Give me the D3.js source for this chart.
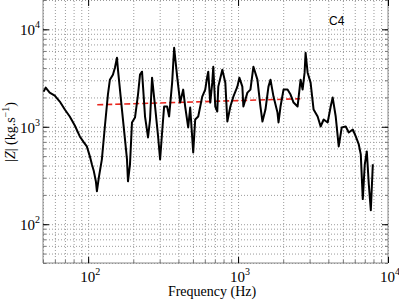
<!DOCTYPE html>
<html>
<head>
<meta charset="utf-8">
<script src="https://cdn.jsdelivr.net/npm/d3@7"></script>
<style>
  body { margin: 0; background: #fff; }
  svg text { fill: #000; }
</style>
</head>
<body>
<div id="content"></div>
<script>
(function(){

  //////////////////////// data /////////////////////////
  // frequency (Hz) and |Z| (kg.s^-1)
  var freq = [50.5, 52.1, 55.4, 59.9, 64.7, 69.9, 75.4, 81.5, 88.0, 93.6,
              98.0, 102.7, 105.9, 109.2, 112.6, 114.4, 117.9, 123.5, 129.3, 135.5,
              139.7, 146.3, 150.9, 155.7, 158.1, 168.1, 176.1, 181.6, 184.4, 190.2,
              196.1, 205.4, 215.1, 221.8, 228.8, 239.6, 250.9, 258.8, 266.9, 279.6,
              292.8, 302.0, 311.4, 321.2, 336.4, 346.8, 363.3, 374.7, 392.4, 411.0,
              430.4, 443.9, 464.9, 479.4, 502.1, 517.8, 542.3, 576.8, 604.0, 622.9,
              632.6, 652.3, 672.8, 683.3, 704.7, 726.7, 738.0, 785.2, 822.3, 848.1,
              888.3, 930.3, 989.2, 1020, 1068, 1085, 1154, 1209, 1266, 1346,
              1410, 1454, 1523, 1595, 1645, 1723, 1832, 1861, 1919, 2010,
              2138, 2239, 2345, 2494, 2612, 2694, 2778, 2821, 2910, 3046,
              3190, 3394, 3554, 3723, 3959, 4147, 4277, 4480, 4692, 4913,
              5226, 5473, 5822, 6095, 6384, 6584, 6789, 7002, 7222, 7447,
              7680, 7922];

  var impedance = [2296, 2522, 2242, 2089, 1814, 1503, 1274, 1031, 796, 691,
                   629, 497, 412, 349, 276, 218, 303, 463, 1007, 2140,
                   3045, 3426, 4039, 5112, 3854, 1503, 742, 463, 276, 412,
                   1107, 1245, 2140, 3426, 3676, 1274, 777, 1188, 3192, 1613,
                   796, 463, 874, 1613, 1613, 1274, 2838, 6470, 3268, 1772,
                   2407, 1613, 984, 1575, 546, 1188, 1274, 2040, 2407, 3268,
                   3676, 1772, 2838, 4136, 1613, 1434, 2583, 3854, 2838, 1133,
                   1613, 2040, 2583, 3192, 2583, 1613, 2242, 2407, 4136, 3045,
                   1613, 1133, 1503, 2583, 3045, 2040, 1400, 1107, 1613, 2407,
                   2407, 2140, 1772, 1613, 3045, 2407, 3592, 5750, 3592, 2838,
                   1503, 1274, 1007, 1188, 1107, 1613, 1993, 1274, 629, 984,
                   1007, 874, 938, 796, 659, 521, 181, 412, 559, 257,
                   139, 412];

  // red dashed mean level
  var meanFreq = [115, 2600];
  var meanImp = [1680, 1940];

  var xMajor = [100, 1000, 10000];
  var yMajor = [100, 1000, 10000];
  var panelLabel = "C4";

  //////////////////////// layout /////////////////////////
  var width = 399, height = 300;
  var left = 43, right = 388, top = 0, bottom = 263;

  var x = d3.scaleLog().domain([50, 10000]).range([left, right]);
  var y = d3.scaleLog().domain([40, 20000]).range([bottom, top]);

  // every 1..9 x 10^k inside the domains
  function minors(dom) {
    var out = [];
    for (var k = 1; k <= 4; k++) {
      for (var m = 1; m <= 9; m++) {
        var v = m * Math.pow(10, k);
        if (v >= dom[0] && v <= dom[1]) out.push(v);
      }
    }
    return out;
  }
  var xMinor = minors(x.domain());
  var yMinor = minors(y.domain());

  var svg = d3.select("#content").append("svg")
      .attr("width", width)
      .attr("height", height);

  // dotted grid
  var gx = svg.append("g")
      .attr("transform", "translate(0," + bottom + ")")
      .call(d3.axisBottom(x).tickValues(xMinor).tickSize(-(bottom - top)).tickFormat(""));
  var gy = svg.append("g")
      .attr("transform", "translate(" + left + ",0)")
      .call(d3.axisLeft(y).tickValues(yMinor).tickSize(-(right - left)).tickFormat(""));
  [gx, gy].forEach(function(g){
    g.select(".domain").remove();
    g.selectAll("line")
      .attr("stroke", "#9a9a9a")
      .attr("stroke-width", 1)
      .attr("stroke-dasharray", "1,2");
  });

  // frame
  svg.append("path")
      .attr("d", "M" + left + "," + top + "V" + bottom + "H" + right + "V" + top)
      .attr("fill", "none")
      .attr("stroke", "#8a8a8a")
      .attr("stroke-width", 1);

  // inward ticks: left, right, bottom, top
  function ticks(axis, tr, vals, size, col) {
    var g = svg.append("g").attr("transform", tr)
        .call(axis.tickValues(vals).tickSize(size).tickFormat(""));
    g.select(".domain").remove();
    g.selectAll("line").attr("stroke", col);
  }
  ticks(d3.axisLeft(y), "translate(" + left + ",0)", yMinor, -3, "#777");
  ticks(d3.axisRight(y), "translate(" + right + ",0)", yMinor, -3, "#777");
  ticks(d3.axisBottom(x), "translate(0," + bottom + ")", xMinor, -3, "#777");
  ticks(d3.axisLeft(y), "translate(" + left + ",0)", yMajor, -6, "#000");
  ticks(d3.axisRight(y), "translate(" + right + ",0)", yMajor, -6, "#000");
  ticks(d3.axisBottom(x), "translate(0," + bottom + ")", xMajor, -6, "#000");
  ticks(d3.axisTop(x), "translate(0," + top + ")", xMajor, -6, "#000");

  // tick labels 10^n
  var serif = "'Liberation Serif','Times New Roman',serif";
  function power(sel) {
    sel.append("tspan").text("10");
    sel.append("tspan")
      .attr("dy", -7)
      .attr("font-size", 10)
      .text(function(d){ return Math.round(Math.log10(d)); });
  }
  svg.selectAll(".ylab")
      .data(yMajor)
    .enter().append("text")
      .attr("class", "ylab")
      .attr("x", 20)
      .attr("y", function(d){ return y(d) + 6; })
      .attr("font-family", serif)
      .attr("font-size", 15)
      .call(power);

  svg.selectAll(".xlab")
      .data(xMajor)
    .enter().append("text")
      .attr("class", "xlab")
      .attr("x", function(d){ return x(d) - 8; })
      .attr("y", 282)
      .attr("font-family", serif)
      .attr("font-size", 15)
      .call(power);

  svg.append("text")
      .attr("x", 212)
      .attr("y", 296)
      .attr("text-anchor", "middle")
      .attr("font-family", serif)
      .attr("font-size", 14)
      .text("Frequency (Hz)");

  var yl = svg.append("text")
      .attr("transform", "translate(15,132) rotate(-90)")
      .attr("text-anchor", "middle")
      .attr("font-family", serif)
      .attr("font-size", 14);
  yl.append("tspan").text("|");
  yl.append("tspan").attr("font-style", "italic").text("Z");
  yl.append("tspan").text("| (kg.s");
  yl.append("tspan").attr("dy", -6).attr("font-size", 10).text("\u22121");
  yl.append("tspan").attr("dy", 6).text(")");

  // mean level, dashed red
  svg.append("path")
      .datum(d3.zip(meanFreq, meanImp))
      .attr("d", d3.line()
          .x(function(d){ return x(d[0]); })
          .y(function(d){ return y(d[1]); }))
      .attr("fill", "none")
      .attr("stroke", "#e8261e")
      .attr("stroke-width", 1.6)
      .attr("stroke-dasharray", "6,3");

  // impedance curve
  svg.append("path")
      .datum(d3.zip(freq, impedance))
      .attr("d", d3.line()
          .x(function(d){ return x(d[0]); })
          .y(function(d){ return y(d[1]); }))
      .attr("fill", "none")
      .attr("stroke", "#000")
      .attr("stroke-width", 2)
      .attr("stroke-linejoin", "round");

  svg.append("text")
      .attr("x", 329)
      .attr("y", 25)
      .attr("font-family", "'Liberation Sans',Arial,sans-serif")
      .attr("font-size", 12)
      .text(panelLabel);

})();
</script>
</body>
</html>
